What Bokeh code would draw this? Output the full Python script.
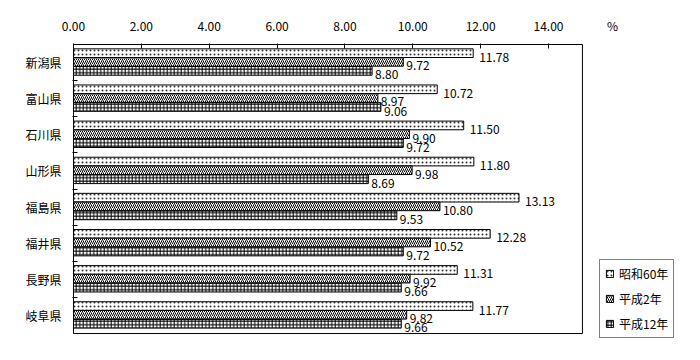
from bokeh.plotting import figure
from bokeh.models import (Range1d, FixedTicker, Legend, LegendItem,
                          ColumnDataSource, CustomJSTickFormatter)
from bokeh.core.properties import value
from bokeh.embed import file_html
from bokeh.resources import INLINE

prefectures = ["新潟県", "富山県", "石川県", "山形県", "福島県", "福井県", "長野県", "岐阜県"]
series_names = ["昭和60年", "平成2年", "平成12年"]
s60 = [11.78, 10.72, 11.50, 11.80, 13.13, 12.28, 11.31, 11.77]
h2 = [9.72, 8.97, 9.90, 9.98, 10.80, 10.52, 9.92, 9.82]
h12 = [8.80, 9.06, 9.72, 8.69, 9.53, 9.72, 9.66, 9.66]
x_ticks = [0, 2, 4, 6, 8, 10, 12, 14]
unit_label = "%"

FONT = "Noto Sans CJK JP"
n = len(prefectures)

# plot box spans 0..15 (x) and 0..n (y); the frame is extended to also hold the legend and unit
X_MAX = 15.0
PX_X = 33.93      # pixels per x unit
PX_Y = 36.13      # pixels per category
FRAME_W, FRAME_H = 620, 297
x0 = -1.0 / PX_X
y0 = -1.0 / PX_Y
x_end = x0 + FRAME_W / PX_X
y_end = y0 + FRAME_H / PX_Y
unit_pos = X_MAX + 0.89

p = figure(width=692, height=344, output_backend="svg", toolbar_location=None,
           x_range=Range1d(x0, x_end), y_range=Range1d(y_end, y0),
           x_axis_location="above",
           min_border_left=72, min_border_right=0, min_border_top=43, min_border_bottom=4)
p.xgrid.visible = False
p.ygrid.visible = False
p.outline_line_color = None
p.background_fill_color = "white"
p.border_fill_color = "white"

# plot box border
p.quad(left=[0], right=[X_MAX], top=[0], bottom=[n], fill_color=None,
       line_color="black", line_width=1)

# x axis (top)
xa = p.xaxis[0]
xa.ticker = FixedTicker(ticks=x_ticks + [unit_pos], minor_ticks=x_ticks)
xa.formatter = CustomJSTickFormatter(
    args=dict(up=unit_pos, ul=unit_label),
    code="return Math.abs(tick - up) < 1e-6 ? ul : tick.toFixed(2);")
xa.major_tick_in = 0
xa.major_tick_out = 0
xa.minor_tick_in = 5
xa.minor_tick_out = 0
xa.minor_tick_line_color = "black"
xa.axis_line_color = None
xa.major_label_text_font = FONT
xa.major_label_text_font_size = "12px"
xa.major_label_text_color = "black"
xa.major_label_standoff = 10

# y axis (categories)
ya = p.yaxis[0]
centers = [i + 0.5 for i in range(n)]
bounds = [float(i) for i in range(1, n)]
ya.ticker = FixedTicker(ticks=centers, minor_ticks=bounds)
ya.major_label_overrides = {c: name for c, name in zip(centers, prefectures)}
ya.major_tick_in = 0
ya.major_tick_out = 0
ya.minor_tick_in = 5
ya.minor_tick_out = 0
ya.minor_tick_line_color = "black"
ya.axis_line_color = None
ya.major_label_text_font = FONT
ya.major_label_text_font_size = "12px"
ya.major_label_text_color = "black"
ya.major_label_standoff = 11

bar_h = 0.24
offsets = [0.24, 0.48, 0.73]
patterns = [dict(hatch_pattern="dot", hatch_scale=4.0, hatch_weight=0.5, hatch_alpha=0.8),
            dict(hatch_pattern="right_diagonal_line", hatch_scale=4.0, hatch_weight=1.0),
            dict(hatch_pattern="cross", hatch_scale=3.5, hatch_weight=1.0)]
label_dx = [6, 3, 3]

items = []
for k, (vals, name) in enumerate(zip([s60, h2, h12], series_names)):
    ys = [i + offsets[k] for i in range(n)]
    src = ColumnDataSource(dict(y=ys, right=vals, txt=[f"{v:.2f}" for v in vals]))
    r = p.hbar(y="y", left=0, right="right", height=bar_h, source=src,
               fill_color="white", line_color="black", line_width=1,
               hatch_color="black", **patterns[k])
    p.text(x="right", y="y", text="txt", source=src, x_offset=label_dx[k], y_offset=4,
           text_baseline="middle", text_align="left", text_font=value(FONT),
           text_font_size="12px", text_color="black")
    items.append(LegendItem(label=name, renderers=[r]))

legend = Legend(items=items, location=(527, 2),
                glyph_width=9, glyph_height=9, label_height=17, spacing=8, padding=5,
                label_standoff=5, margin=0,
                label_text_font=FONT, label_text_font_size="12px",
                label_text_color="black",
                border_line_color="black", border_line_width=1,
                background_fill_color="white", background_fill_alpha=1.0)
p.add_layout(legend, "center")

open("out.html", "w").write(file_html(p, INLINE))
